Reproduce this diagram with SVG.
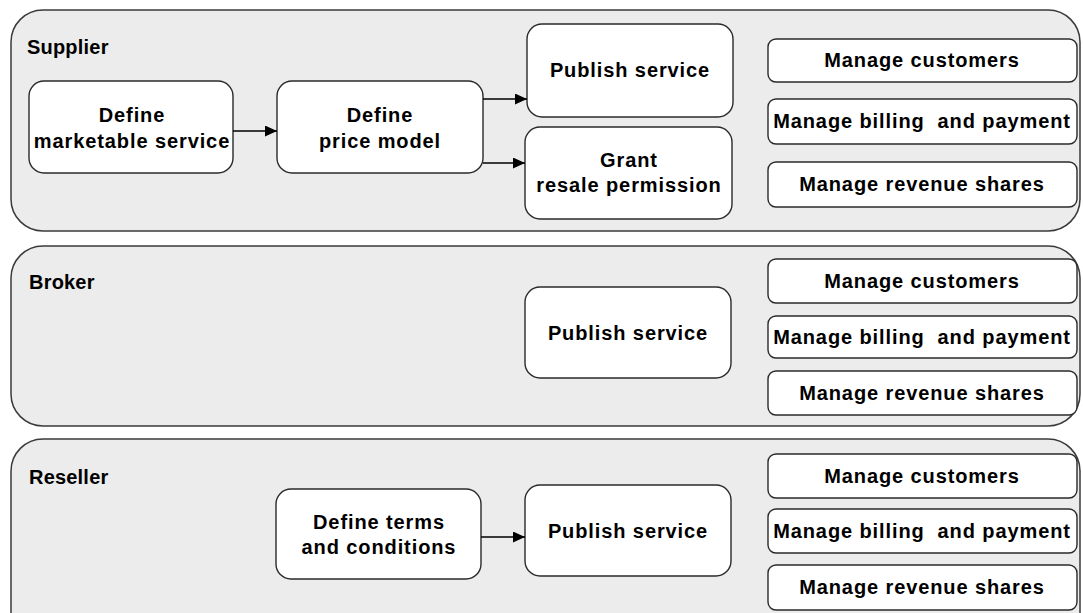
<svg xmlns="http://www.w3.org/2000/svg" width="1083" height="613" viewBox="0 0 1083 613">
<style>
.lane{fill:#ececec;stroke:#3a3a3a;stroke-width:1.5}
.box{fill:#fff;stroke:#2a2a2a;stroke-width:1.4}
.t{font-family:"Liberation Sans",Arial,sans-serif;font-weight:bold;font-size:20px;fill:#000;letter-spacing:0.9px;text-anchor:middle;white-space:pre}
.lbl{font-family:"Liberation Sans",Arial,sans-serif;font-weight:bold;font-size:20px;fill:#000;letter-spacing:0.2px}
.c{stroke:#000;stroke-width:1.4;fill:none;marker-end:url(#ah)}
</style>
<defs>
<marker id="ah" markerWidth="13" markerHeight="11" refX="12" refY="5.5" orient="auto" markerUnits="userSpaceOnUse">
<path d="M0,0 L12,5.5 L0,11 Z" fill="#000"/>
</marker>
</defs>
<rect width="1083" height="613" fill="#fff"/>
<g id="lane-supplier">
<rect class="lane" x="11" y="10" width="1069" height="221" rx="32" ry="32"/>
<text class="lbl" x="27" y="54">Supplier</text>
</g>
<g id="lane-broker">
<rect class="lane" x="11" y="246" width="1069" height="180" rx="32" ry="32"/>
<text class="lbl" x="29" y="289">Broker</text>
</g>
<g id="lane-reseller">
<rect class="lane" x="11" y="439" width="1069" height="210" rx="32" ry="32"/>
<text class="lbl" x="29" y="484">Reseller</text>
</g>

<g id="s-define-marketable">
<rect class="box" x="29" y="81" width="204" height="92" rx="15"/>
<text class="t" x="132" y="122">Define</text>
<text class="t" x="132" y="148">marketable service</text>
</g>
<g id="s-define-price">
<rect class="box" x="277" y="81" width="206" height="92" rx="15"/>
<text class="t" x="380" y="122">Define</text>
<text class="t" x="380" y="148">price model</text>
</g>
<g id="s-publish">
<rect class="box" x="527" y="24" width="206" height="93" rx="15"/>
<text class="t" x="630" y="77">Publish service</text>
</g>
<g id="s-grant">
<rect class="box" x="525" y="127" width="207" height="92" rx="15"/>
<text class="t" x="629" y="167">Grant</text>
<text class="t" x="629" y="192">resale permission</text>
</g>
<g id="s-manage-customers">
<rect class="box" x="768" y="39" width="309" height="43" rx="8"/>
<text class="t" x="922" y="67">Manage customers</text>
</g>
<g id="s-manage-billing">
<rect class="box" x="768" y="99" width="309" height="45" rx="8"/>
<text class="t" x="922" y="128">Manage billing  and payment</text>
</g>
<g id="s-manage-revenue">
<rect class="box" x="768" y="162" width="309" height="45" rx="8"/>
<text class="t" x="922" y="191">Manage revenue shares</text>
</g>

<g id="b-publish">
<rect class="box" x="525" y="287" width="206" height="91" rx="15"/>
<text class="t" x="628" y="340">Publish service</text>
</g>
<g id="b-manage-customers">
<rect class="box" x="768" y="259" width="309" height="44" rx="8"/>
<text class="t" x="922" y="288">Manage customers</text>
</g>
<g id="b-manage-billing">
<rect class="box" x="768" y="316" width="309" height="42" rx="8"/>
<text class="t" x="922" y="344">Manage billing  and payment</text>
</g>
<g id="b-manage-revenue">
<rect class="box" x="768" y="371" width="309" height="44" rx="8"/>
<text class="t" x="922" y="400">Manage revenue shares</text>
</g>

<g id="r-define-terms">
<rect class="box" x="276" y="489" width="205" height="90" rx="15"/>
<text class="t" x="379" y="529">Define terms</text>
<text class="t" x="379" y="554">and conditions</text>
</g>
<g id="r-publish">
<rect class="box" x="525" y="485" width="206" height="91" rx="15"/>
<text class="t" x="628" y="538">Publish service</text>
</g>
<g id="r-manage-customers">
<rect class="box" x="768" y="454" width="309" height="44" rx="8"/>
<text class="t" x="922" y="483">Manage customers</text>
</g>
<g id="r-manage-billing">
<rect class="box" x="768" y="509" width="309" height="44" rx="8"/>
<text class="t" x="922" y="538">Manage billing  and payment</text>
</g>
<g id="r-manage-revenue">
<rect class="box" x="768" y="565" width="309" height="45" rx="8"/>
<text class="t" x="922" y="594">Manage revenue shares</text>
</g>

<g id="connectors">
<line class="c" x1="233" y1="131" x2="277" y2="131"/>
<line class="c" x1="483" y1="99" x2="527" y2="99"/>
<line class="c" x1="483" y1="163" x2="525" y2="163"/>
<line class="c" x1="481" y1="537" x2="525" y2="537"/>
</g>
</svg>
